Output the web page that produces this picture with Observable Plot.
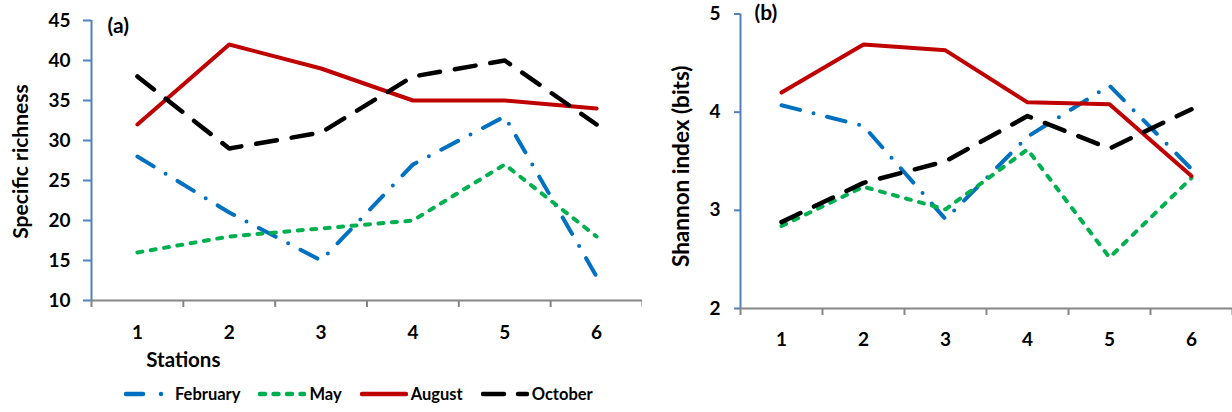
<!DOCTYPE html>
<html><head><meta charset="utf-8">
<script src="https://cdn.jsdelivr.net/npm/d3@7"></script>
<script src="https://cdn.jsdelivr.net/npm/@observablehq/plot@0.6"></script>
<style>
body{margin:0;background:#fff;font-family:Lato,"Open Sans",sans-serif;}
#wrap{position:relative;width:1232px;height:412px;overflow:hidden;}
#row{display:flex;align-items:flex-start;}
#legend{position:absolute;left:124px;top:384px;display:flex;align-items:center;font-weight:bold;font-size:16.5px;color:#000;}
#legend .item{display:flex;align-items:center;margin-right:18px;}
#legend svg{display:block;margin-right:3px;}
</style></head><body>
<div id="wrap"><div id="row"></div><div id="legend"></div></div>
<script>
// ---- data ----
const stations = [1, 2, 3, 4, 5, 6];
const seriesNames = ["February", "May", "August", "October"];
const richFeb = [28, 21, 15, 27, 33, 13];
const richMay = [16, 18, 19, 20, 27, 18];
const richAug = [32, 42, 39, 35, 35, 34];
const richOct = [38, 29, 31, 38, 40, 32];
const shanFeb = [4.07, 3.86, 2.91, 3.75, 4.27, 3.42];
const shanMay = [2.84, 3.24, 3.01, 3.62, 2.52, 3.33];
const shanAug = [4.20, 4.69, 4.63, 4.10, 4.08, 3.35];
const shanOct = [2.88, 3.28, 3.50, 3.96, 3.63, 4.03];
const richTicks = [10, 15, 20, 25, 30, 35, 40, 45];
const shanTicks = [2, 3, 4, 5];

// ---- styles ----
const styles = {
  February: {stroke: "#0070C0", strokeWidth: 4, strokeDasharray: "19 14 0 14"},
  May: {stroke: "#00B050", strokeWidth: 4, strokeDasharray: "5 8.5"},
  August: {stroke: "#C00000", strokeWidth: 4, strokeDasharray: null},
  October: {stroke: "#000000", strokeWidth: 4.5, strokeDasharray: "21 15"}
};
const yAxisColor = "#4F81BD";
const xAxisColor = "#868686";
const font = "Lato, 'Open Sans', sans-serif";

function toRows(arr) { return stations.map((s, i) => ({station: s, value: arr[i]})); }

function panel({series, yDomain, yTicks, width, marginLeft, marginTop, marginBottom, tickSize, tickPadding, xPadding, ylabel, ylabelDx, ylabelDy, ylabelSize, tag, tagDx, tagDy, extra}) {
  const marks = [
    Plot.ruleX([0.5], {y1: yDomain[0], y2: yDomain[1], stroke: yAxisColor, strokeWidth: 2}),
    Plot.ruleY([yDomain[0]], {stroke: xAxisColor, strokeWidth: 2}),
    Plot.axisY({ticks: yTicks, tickSize, tickPadding, label: null, tickFormat: d => String(d), stroke: yAxisColor, strokeWidth: 2, fill: "#000", fontWeight: "bold", fontSize: 19}),
    Plot.axisX({ticks: [0.5, 1.5, 2.5, 3.5, 4.5, 5.5, 6.5], label: null, tickSize: 7, tickFormat: () => "", stroke: xAxisColor, strokeWidth: 2}),
    Plot.axisX({ticks: stations, label: null, tickSize: 0, tickPadding: xPadding, tickFormat: d => String(d), fill: "#000", fontWeight: "bold", fontSize: 19}),
    Plot.text([ylabel], {frameAnchor: "left", textAnchor: "middle", lineAnchor: "middle", rotate: -90, dx: ylabelDx, dy: ylabelDy, fontWeight: "bold", fontSize: ylabelSize, fill: "#000"}),
    Plot.text([tag], {frameAnchor: "top-left", dx: tagDx, dy: tagDy, fontWeight: "bold", fontSize: 21, fill: "#000"})
  ];
  seriesNames.forEach((name, i) => {
    const st = styles[name];
    marks.push(Plot.line(toRows(series[i]), {x: "station", y: "value", stroke: st.stroke, strokeWidth: st.strokeWidth,
      strokeDasharray: st.strokeDasharray, strokeLinecap: "round", strokeLinejoin: "round"}));
  });
  if (extra) marks.push(...extra);
  return Plot.plot({
    width, height: 375, marginLeft, marginRight: 0, marginTop, marginBottom,
    style: {fontFamily: font, background: "white", overflow: "visible"},
    x: {domain: [0.5, 6.5]},
    y: {domain: yDomain},
    marks
  });
}

const left = panel({
  series: [richFeb, richMay, richAug, richOct], yDomain: [10, 45], yTicks: richTicks,
  width: 642, marginLeft: 91, marginTop: 20, marginBottom: 75, tickSize: 8, tickPadding: 13, xPadding: 25,
  ylabel: "Specific richness", ylabelDx: -70, ylabelDy: 1, ylabelSize: 21, tag: "(a)", tagDx: 16, tagDy: -2,
  extra: [Plot.text(["Stations"], {x: [1.5], frameAnchor: "bottom", lineAnchor: "middle", dy: 60, fontWeight: "bold", fontSize: 20.5, fill: "#000"})]
});
const right = panel({
  series: [shanFeb, shanMay, shanAug, shanOct], yDomain: [2, 5], yTicks: shanTicks,
  width: 590, marginLeft: 98, marginTop: 13.5, marginBottom: 67, tickSize: 6, tickPadding: 14, xPadding: 24,
  ylabel: "Shannon index (bits)", ylabelDx: -59, ylabelDy: 5, ylabelSize: 22.5, tag: "(b)", tagDx: 14, tagDy: -9
});
document.getElementById("row").append(left, right);

// ---- legend ----
const legend = document.getElementById("legend");
seriesNames.forEach(name => {
  const st = styles[name];
  const item = document.createElement("div");
  item.className = "item";
  const legendDash = {February: "17 18 0 40", May: "5 8.5", August: null, October: "21 14"}[name];
  item.innerHTML = `<svg width="48" height="10"><line x1="2" y1="5" x2="46" y2="5" stroke="${st.stroke}" stroke-width="4.5" stroke-linecap="round" ${legendDash ? `stroke-dasharray="${legendDash}"` : ""}/></svg><span>${name}</span>`;
  legend.append(item);
});
</script>
</body></html>
